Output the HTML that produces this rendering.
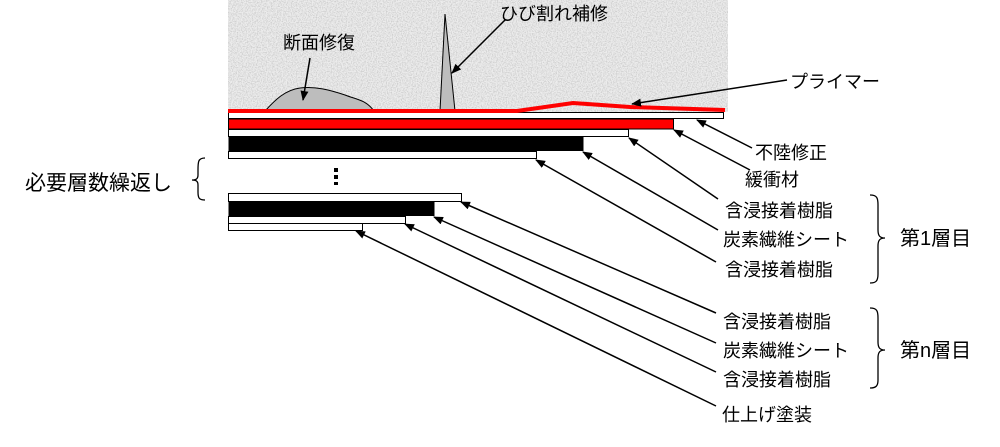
<!DOCTYPE html>
<html><head><meta charset="utf-8"><style>
html,body{margin:0;padding:0;background:#fff;width:1000px;height:447px;overflow:hidden}
svg text{font-family:"Liberation Sans","Noto Sans CJK JP",sans-serif;font-size:18px;fill:#000}
</style></head><body>
<svg width="1000" height="447" viewBox="0 0 1000 447" xmlns="http://www.w3.org/2000/svg">
<defs>
<filter id="n" x="0" y="0" width="100%" height="100%">
<feTurbulence type="fractalNoise" baseFrequency="0.8" numOctaves="2" seed="3"/>
<feColorMatrix type="matrix" values="0 0 0 0 0.62  0 0 0 0 0.62  0 0 0 0 0.62  3 0 0 0 -1.2"/>
</filter>
<marker id="a" markerWidth="10" markerHeight="8" refX="9" refY="4" orient="auto" markerUnits="userSpaceOnUse">
<path d="M0,0 L10,4 L0,8 z" fill="#000"/></marker>
</defs>
<rect x="228" y="0" width="500" height="112" fill="#ececec"/>
<rect x="228" y="0" width="500" height="112" filter="url(#n)"/>
<path d="M265,111 C275,100 285,90 300,88 C315,86 330,90 345,95 C358,100 366,100 374,111 Z" fill="#bdbdbd" stroke="#000" stroke-width="1"/>
<path d="M440,111 L445,14 L455,111 Z" fill="#bdbdbd" stroke="#000" stroke-width="1"/>
<rect x="228.5" y="112.5" width="495" height="6" fill="#fff" stroke="#000"/>
<rect x="228.5" y="119" width="445" height="10" fill="#f00" stroke="#000"/>
<rect x="228.5" y="129.5" width="400" height="7" fill="#fff" stroke="#000"/>
<rect x="228.5" y="137" width="355" height="14" fill="#000"/>
<rect x="228.5" y="151.5" width="308" height="7" fill="#fff" stroke="#000"/>
<polyline points="228,111 517,111 573,103 630,107 725,110" fill="none" stroke="#f00" stroke-width="4"/>
<rect x="334" y="168" width="4" height="4" fill="#000"/>
<rect x="334" y="175" width="4" height="4" fill="#000"/>
<rect x="334" y="182" width="4" height="3" fill="#000"/>
<rect x="228.5" y="193.5" width="233" height="8" fill="#fff" stroke="#000"/>
<rect x="228.5" y="202" width="206" height="14" fill="#000"/>
<rect x="228.5" y="216.5" width="177" height="7" fill="#fff" stroke="#000"/>
<rect x="228.5" y="223.5" width="134" height="7" fill="#fff" stroke="#000"/>
<g stroke="#000" stroke-width="1.5" fill="none" marker-end="url(#a)">
<line x1="310" y1="58" x2="303" y2="100"/>
<line x1="505" y1="20" x2="452" y2="73"/>
<line x1="787" y1="80" x2="632" y2="104"/>
<line x1="752" y1="148" x2="697" y2="120"/>
<line x1="750" y1="170" x2="674" y2="130"/>
<line x1="718" y1="199" x2="629" y2="138"/>
<line x1="718" y1="230" x2="583" y2="152"/>
<line x1="716" y1="262" x2="536" y2="160"/>
<line x1="716" y1="313" x2="461" y2="202"/>
<line x1="716" y1="343" x2="434" y2="217"/>
<line x1="716" y1="372" x2="405" y2="224"/>
<line x1="716" y1="406" x2="356" y2="231"/>
</g>
<g stroke="#000" stroke-width="1.3" fill="none">
<path d="M205,158 C198,158 198,162 198,170 L198,175 C198,179 196,180 192,180 C196,180 198,181 198,185 L198,192 C198,198 199,200 205,200"/>
<path d="M870,195 C877,195 878,198 878,205 L878,230 C878,236 880,238 885,238 C880,238 878,240 878,246 L878,274 C878,281 876,283 870,283"/>
<path d="M870,308 C877,308 878,311 878,318 L878,342 C878,348 880,350 885,350 C880,350 878,352 878,358 L878,380 C878,386 876,388 870,388"/>
</g>
<text x="283" y="49">断面修復</text>
<text x="500" y="20">ひび割れ補修</text>
<text x="790" y="88">プライマー</text>
<text x="755" y="159">不陸修正</text>
<text x="745" y="186">緩衝材</text>
<text x="725" y="217">含浸接着樹脂</text>
<text x="723" y="246">炭素繊維シート</text>
<text x="725" y="276">含浸接着樹脂</text>
<text x="900" y="245" style="font-size:20px">第1層目</text>
<text x="723" y="328">含浸接着樹脂</text>
<text x="723" y="357">炭素繊維シート</text>
<text x="723" y="386">含浸接着樹脂</text>
<text x="900" y="357" style="font-size:20px">第n層目</text>
<text x="722" y="421">仕上げ塗装</text>
<text x="25" y="190" style="font-size:21px">必要層数繰返し</text>
</svg>
</body></html>
